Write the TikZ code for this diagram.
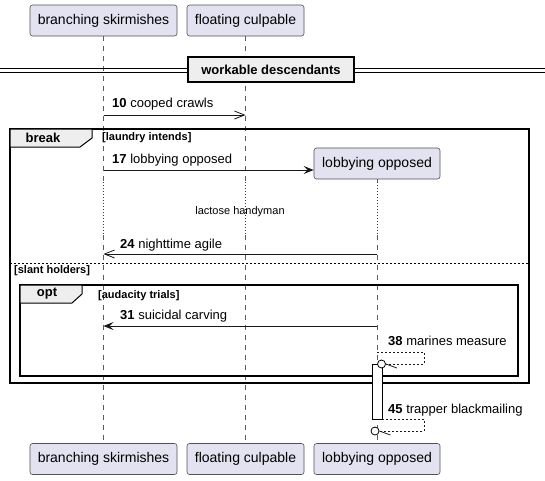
\documentclass[tikz,border=0pt]{standalone}
\usepackage{fontspec}
\setmainfont{Liberation Sans}
\usetikzlibrary{arrows.meta,calc}
\definecolor{partfill}{HTML}{E2E2F0}
\definecolor{partline}{HTML}{181818}
\definecolor{tabfill}{HTML}{EEEEEE}
\definecolor{delaycol}{HTML}{8B0A50}
\tikzset{
  part/.style={draw=partline!75, fill=partfill, rounded corners=2.5pt, line width=0.6pt,
    minimum height=31pt, inner xsep=0pt, font=\fontsize{14}{16}\selectfont, text=black},
  lifeline/.style={draw=partline!70, line width=0.6pt, dash pattern=on 5pt off 5pt},
  delayline/.style={draw=delaycol, line width=0.6pt, dash pattern=on 1pt off 2pt},
  msg/.style={draw=partline, line width=0.8pt},
  openhead/.style={-{Straight Barb[length=10pt,width=8pt,line width=0.8pt]}},
  fullhead/.style={-{Stealth[length=10pt,width=8pt,inset=4pt]}},
  selfmsg/.style={draw=partline, line width=0.8pt, dash pattern=on 2pt off 2pt},
  msglabel/.style={anchor=west, inner sep=0pt, font=\fontsize{13}{15}\selectfont},
  frameline/.style={draw=black, line width=1.5pt},
  tabshape/.style={draw=black, line width=1pt, fill=tabfill},
  tablabel/.style={inner sep=0pt, font=\fontsize{13}{15}\selectfont\bfseries},
  guard/.style={anchor=west, inner sep=0pt, font=\fontsize{11}{13}\selectfont\bfseries},
  divbox/.style={draw=black, line width=1.5pt, fill=tabfill, minimum width=166pt,
    minimum height=25pt, inner sep=0pt, font=\fontsize{13}{15}\selectfont\bfseries},
  actbar/.style={draw=black, line width=0.8pt, fill=white, minimum width=10pt,
    minimum height=55pt, inner sep=0pt},
  lostcircle/.style={draw=black, line width=0.8pt, fill=white, circle, minimum size=8pt, inner sep=0pt},
}
\begin{document}
\begin{tikzpicture}[x=1pt,y=-1pt]
\useasboundingbox (0,0) rectangle (545,480);
\fill[white] (0,0) rectangle (545,480);

% participants
\node[part, minimum width=147pt] (bsT) at (103.5,20.5) {branching skirmishes};
\node[part, minimum width=117pt] (fcT) at (245.5,20.5) {floating culpable};
\node[part, minimum width=126pt] (loC) at (377,163.5) {lobbying opposed};
\node[part, minimum width=147pt] (bsB) at (103.5,459) {branching skirmishes};
\node[part, minimum width=117pt] (fcB) at (245.5,459) {floating culpable};
\node[part, minimum width=126pt] (loB) at (377,459) {lobbying opposed};

% delay coordinates
\coordinate (bsD1) at (103.5,182); \coordinate (bsD2) at (103.5,235);
\coordinate (fcD1) at (245.5,182); \coordinate (fcD2) at (245.5,235);
\coordinate (loD1) at (377,182);   \coordinate (loD2) at (377,235);

% lifelines
\draw[lifeline] (bsT.south) -- (bsD1);
\draw[delayline] (bsD1) -- (bsD2);
\draw[lifeline] (bsD2) -- (bsB.north);
\draw[lifeline] (fcT.south) -- (fcD1);
\draw[delayline] (fcD1) -- (fcD2);
\draw[lifeline] (fcD2) -- (fcB.north);
\draw[lifeline] (loC.south) -- (loD1);
\draw[delayline] (loD1) -- (loD2);
\draw[lifeline] (loD2) -- (loB.north);

% divider
\coordinate (dl1) at (0,68);   \coordinate (dr1) at (545,68);
\coordinate (dl2) at (0,72);   \coordinate (dr2) at (545,72);
\draw[line width=1pt] (dl1) -- (dr1);
\draw[line width=1pt] (dl2) -- (dr2);
\node[divbox] (div) at (271,69.5) {workable descendants};

% message 10
\coordinate (m10s) at (103.5,115); \coordinate (m10e) at (245.5,115);
\draw[msg, openhead] (m10s) -- (m10e);
\node[msglabel] (l10) at (112,104) {\textbf{10} cooped crawls};

% break frame
\draw[frameline] (10,129) rectangle (529,383);
\draw[tabshape] (10,129) -- (92,129) -- (92,138) -- (80,147) -- (10,147) -- cycle;
\node[tablabel] (tbreak) at (43,138) {break};
\node[guard] (g1) at (102,138) {[laundry intends]};

% message 17 (create)
\coordinate (m17s) at (103.5,170);
\draw[msg, fullhead] (m17s) -- (loC.west |- m17s);
\node[msglabel] (l17) at (112,160) {\textbf{17} lobbying opposed};

% delay text
\node[inner sep=0pt, font=\fontsize{11}{13}\selectfont] (delay) at (240,212) {lactose handyman};

% message 24
\coordinate (m24s) at (377,254); \coordinate (m24e) at (103.5,254);
\draw[msg, openhead] (m24s) -- (m24e);
\node[msglabel] (l24) at (120,245) {\textbf{24} nighttime agile};

% else separator
\coordinate (el) at (10,263); \coordinate (er) at (529,263);
\draw[line width=1pt, dash pattern=on 2pt off 2pt] (el) -- (er);
\node[guard] (g2) at (14,271) {[slant holders]};

% opt frame
\draw[frameline] (20,285) rectangle (518,376);
\draw[tabshape] (20,285) -- (82,285) -- (82,294) -- (72,303) -- (20,303) -- cycle;
\node[tablabel] (topt) at (47,294) {opt};
\node[guard] (g3) at (98,296) {[audacity trials]};

% message 31
\coordinate (m31s) at (377,326); \coordinate (m31e) at (103.5,326);
\draw[msg, fullhead] (m31s) -- (m31e);
\node[msglabel] (l31) at (120,316) {\textbf{31} suicidal carving};

% activation
\node[actbar] (act) at (377,391.5) {};

% message 38 (self, lost circle)
\coordinate (m38s) at (377,352);
\node[lostcircle] (c38) at (381.5,364) {};
\draw[selfmsg] (m38s) -- (424,352) -- (424,364) -- (c38.east);
\draw[msg] (c38.east) -- ++(11,4);
\node[msglabel] (l38) at (388,341) {\textbf{38} marines measure};

% message 45
\coordinate (m45s) at (382,419);
\node[lostcircle] (c45) at (375,431) {};
\draw[selfmsg] (m45s) -- (424,419) -- (424,431) -- (c45.east);
\draw[msg] (c45.east) -- ++(11,4);
\node[msglabel] (l45) at (388,410) {\textbf{45} trapper blackmailing};
\end{tikzpicture}
\end{document}
